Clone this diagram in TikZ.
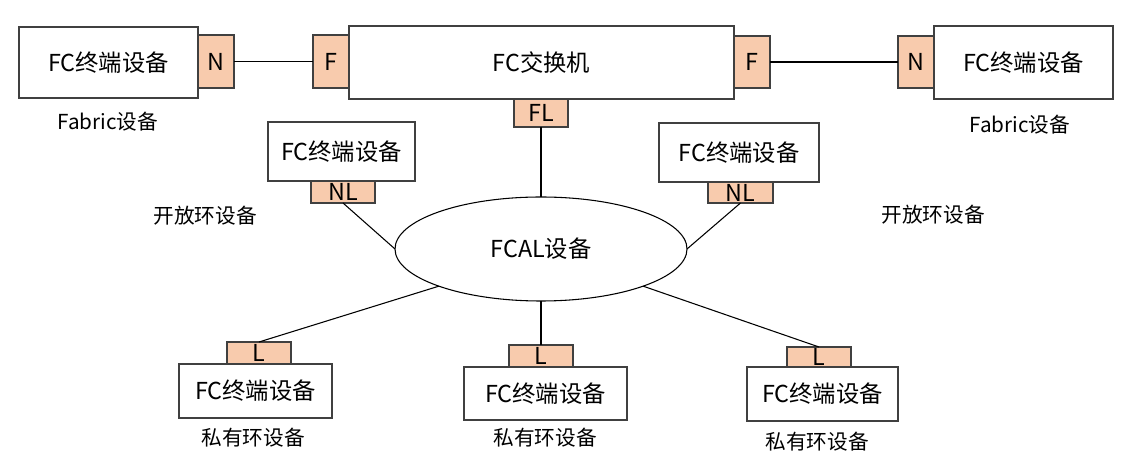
\documentclass[tikz,border=0pt]{standalone}
\usepackage{fontspec}
\setmainfont{Noto Sans CJK SC}
\usetikzlibrary{shapes.geometric}
\definecolor{portfill}{HTML}{F8CBAD}
\definecolor{boxgray}{HTML}{404040}
\begin{document}
\begin{tikzpicture}[x=0.75pt,y=-0.75pt,
  dev/.style={draw=boxgray, line width=1.1pt, fill=white, inner sep=0pt, outer sep=0pt,
    font=\fontsize{17.5}{20}\selectfont},
  port/.style={draw=boxgray, line width=1.1pt, fill=portfill, inner sep=0pt, outer sep=0pt,
    font=\fontsize{17.5}{20}\selectfont},
  lbl/.style={inner sep=0pt, font=\fontsize{15.5}{18}\selectfont},
  link/.style={draw=black, line width=0.8pt}]
\useasboundingbox (0,0) rectangle (1133,473);
% top row
\node[dev, minimum width={179*0.75pt}, minimum height={71*0.75pt}] (lbox) at (108.5,62.5) {FC终端设备};
\node[dev, minimum width={385*0.75pt}, minimum height={73*0.75pt}] (sw) at (541.5,62.5) {FC交换机};
\node[dev, minimum width={179*0.75pt}, minimum height={73*0.75pt}] (rbox) at (1023.5,62.5) {FC终端设备};
\node[port, minimum width={36*0.75pt}, minimum height={53*0.75pt}] (lN) at (216,61.5) {N};
\node[port, minimum width={36*0.75pt}, minimum height={53*0.75pt}] (lF) at (331,61.5) {F};
\node[port, minimum width={36*0.75pt}, minimum height={52*0.75pt}] (rF) at (752,62) {F};
\node[port, minimum width={36*0.75pt}, minimum height={52*0.75pt}] (rN) at (916,62) {N};
\node[port, minimum width={54*0.75pt}, minimum height={28*0.75pt}] (FL) at (541,113) {FL};
\node[lbl] (fabL) at (108,122) {Fabric设备};
\node[lbl] (fabR) at (1020,125) {Fabric设备};
% open loop devices
\node[dev, minimum width={147*0.75pt}, minimum height={59*0.75pt}] (ulbox) at (341.5,151.5) {FC终端设备};
\node[port, minimum width={64*0.75pt}, minimum height={22*0.75pt}] (ulNL) at (343,192) {NL};
\node[dev, minimum width={160*0.75pt}, minimum height={59*0.75pt}] (urbox) at (739,152.5) {FC终端设备};
\node[port, minimum width={65*0.75pt}, minimum height={21*0.75pt}] (urNL) at (740.5,192.5) {NL};
\node[lbl] (openL) at (205,216) {开放环设备};
\node[lbl] (openR) at (933,215) {开放环设备};
% loop
\node[ellipse, draw=black, line width=0.8pt, inner sep=0pt, outer sep=0pt,
  minimum width={292*0.75pt}, minimum height={104*0.75pt},
  font=\fontsize{17.5}{20}\selectfont] (ell) at (541,249) {FCAL设备};
% private loop devices
\node[dev, minimum width={153*0.75pt}, minimum height={54*0.75pt}] (blbox) at (255.5,391) {FC终端设备};
\node[port, minimum width={64*0.75pt}, minimum height={22*0.75pt}] (blL) at (259,353) {L};
\node[dev, minimum width={163*0.75pt}, minimum height={53*0.75pt}] (bmbox) at (545.5,393.5) {FC终端设备};
\node[port, minimum width={64*0.75pt}, minimum height={22*0.75pt}] (bmL) at (541,356) {L};
\node[dev, minimum width={151*0.75pt}, minimum height={54*0.75pt}] (brbox) at (822.5,394) {FC终端设备};
\node[port, minimum width={64*0.75pt}, minimum height={20*0.75pt}] (brL) at (819,357) {L};
\node[lbl] (privL) at (253,438) {私有环设备};
\node[lbl] (privM) at (545,438) {私有环设备};
\node[lbl] (privR) at (817,442) {私有环设备};
% links
\draw[link] (lN.east) -- (lF.west);
\draw[link] (rF.east) -- (rN.west);
\draw[link] (FL.south) -- (ell.north);
\draw[link] (ulNL.south) -- (ell.west);
\draw[link] (urNL.south) -- (ell.east);
\draw[link] (ell.200) -- (blL.north);
\draw[link] (ell.south) -- (bmL.north);
\draw[link] (ell.340) -- (brL.north);
\end{tikzpicture}
\end{document}
